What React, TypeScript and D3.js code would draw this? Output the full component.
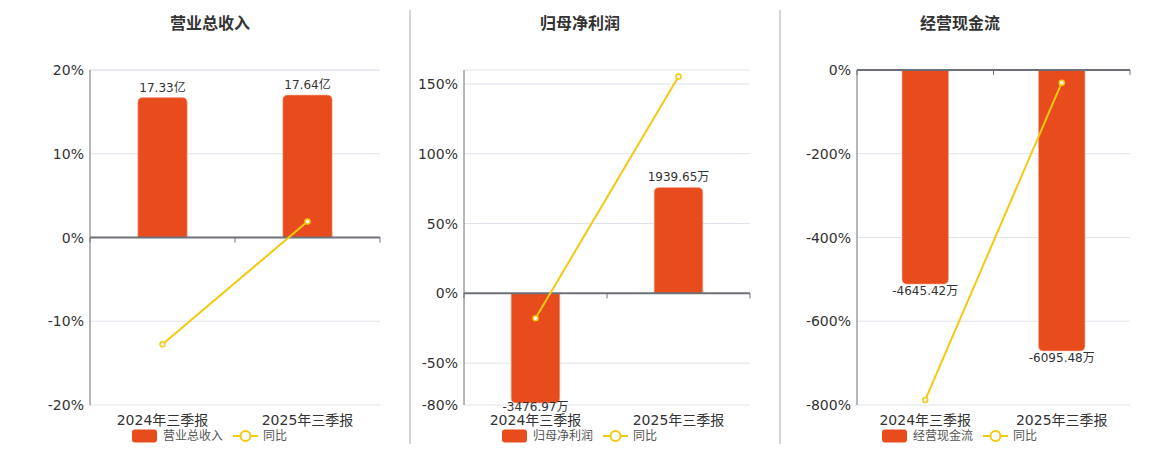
import React from 'react';
import * as d3 from 'd3';

const categories = ['2024年三季报', '2025年三季报'];

const revenue = [17.33, 17.64];
const revenueYoy = [-12.74, 1.9];

const profit = [-3476.97, 1939.65];
const profitYoy = [-17.9, 155.4];

const cashflow = [-4645.42, -6095.48];
const cashflowYoy = [-788, -30.3];

const revenueTicks = [-20, -10, 0, 10, 20];
const profitTicks = [-80, -50, 0, 50, 100, 150];
const cashflowTicks = [-800, -600, -400, -200, 0];

const BAR = '#e84c1d';
const LINE = '#f5c911';
const GRID = '#e0e3ec';
const AXIS = '#6e7079';
const TEXT = '#333';
const FONT = '"DejaVu Sans", "Noto Sans CJK SC", sans-serif';

const TOP = 70;
const BOTTOM = 405;

interface PanelProps {
  title: string;
  name: string;
  unit: string;
  values: number[];
  yoy: number[];
  yDomain: [number, number];
  ticks: number[];
  barDomain: number[];
  left: number;
  right: number;
  center: number;
}

// outer end of the bar is rounded, base stays square
function barPath(x: number, w: number, base: number, end: number, r: number) {
  const rr = Math.min(r, Math.abs(end - base) / 2, w / 2);
  const s = end < base ? 1 : -1;
  return `M${x},${base}V${end + s * rr}Q${x},${end} ${x + rr},${end}H${x + w - rr}Q${x + w},${end} ${x + w},${end + s * rr}V${base}Z`;
}

const Panel: React.FC<PanelProps> = ({ title, name, unit, values, yoy, yDomain, ticks, barDomain, left, right, center }) => {
  const y = d3.scaleLinear().domain(yDomain).range([BOTTOM, TOP]);
  const zero = y(0);
  // hidden bar axis, zero lined up with the percent axis
  const yBar = barDomain.length === 3
    ? d3.scaleLinear().domain(barDomain).range([BOTTOM, zero, TOP])
    : d3.scaleLinear().domain(barDomain).range([BOTTOM, TOP]);
  const x = d3.scaleBand().domain(categories).range([left, right]);
  const bw = x.bandwidth() * 0.34;
  const cx = (c: string) => (x(c) || 0) + x.bandwidth() / 2;

  const line = d3.line<number>()
    .x((_, i) => cx(categories[i]))
    .y(d => y(d));

  const grid = [...ticks, yDomain[1]].filter(t => t !== 0);

  return (
    <g fontFamily={FONT}>
      <text x={center} y={23} textAnchor="middle" dominantBaseline="central" fontSize={16} fontWeight="bold" fill={TEXT}>{title}</text>

      {grid.map(t => (
        <line key={'g' + t} x1={left} x2={right} y1={y(t)} y2={y(t)} stroke={GRID} strokeWidth={1} />
      ))}
      {ticks.map(t => (
        <text key={'t' + t} x={left - 6} y={y(t)} textAnchor="end" dominantBaseline="central" fontSize={14} fill={TEXT}>{t}%</text>
      ))}
      <line x1={left} x2={left} y1={TOP} y2={BOTTOM} stroke={AXIS} strokeWidth={1} />

      {values.map((v, i) => {
        const c = categories[i];
        const end = yBar(v);
        const x0 = cx(c) - bw / 2;
        return (
          <g key={c}>
            <path d={barPath(x0, bw, zero, end, 5)} fill={BAR} stroke="#f6a88f" strokeWidth={0.6} />
            <text
              x={cx(c)}
              y={v >= 0 ? end - 6 : Math.min(end + 7, BOTTOM + 2)}
              textAnchor="middle"
              dominantBaseline={v >= 0 ? 'auto' : 'central'}
              fontSize={12}
              fill={TEXT}
            >{v.toFixed(2)}{unit}</text>
          </g>
        );
      })}

      <line x1={left} x2={right} y1={zero} y2={zero} stroke={AXIS} strokeWidth={2} />
      {[left, ...categories.map(c => (x(c) || 0) + x.bandwidth())].map((t, i) => (
        <line key={'k' + i} x1={t} x2={t} y1={zero} y2={zero + 5} stroke={AXIS} strokeWidth={1} />
      ))}

      <path d={line(yoy) || ''} fill="none" stroke={LINE} strokeWidth={2} />
      {yoy.map((v, i) => (
        <circle key={'p' + i} cx={cx(categories[i])} cy={y(v)} r={2.5} fill="#fff" stroke={LINE} strokeWidth={1.5} />
      ))}

      {categories.map(c => (
        <text key={'c' + c} x={cx(c)} y={420} textAnchor="middle" dominantBaseline="central" fontSize={14} fill={TEXT}>{c}</text>
      ))}

      <rect x={center - 78} y={429.5} width={25} height={13} rx={3} fill={BAR} />
      <text x={center - 47} y={436} dominantBaseline="central" fontSize={12} fill="#555">{name}</text>
      <line x1={center + 23} x2={center + 48} y1={436} y2={436} stroke={LINE} strokeWidth={2} />
      <circle cx={center + 35.5} cy={436} r={5} fill="#fff" stroke={LINE} strokeWidth={2} />
      <text x={center + 53} y={436} dominantBaseline="central" fontSize={12} fill="#555">同比</text>
    </g>
  );
};

export default function App() {
  return (
    <svg width={1160} height={450} style={{ position: 'absolute', left: 0, top: 0, background: '#fff' }}>
      <Panel
        title="营业总收入" name="营业总收入" unit="亿"
        values={revenue} yoy={revenueYoy}
        yDomain={[-20, 20]} ticks={revenueTicks} barDomain={[-20.75, 0, 20.75]}
        left={90} right={380} center={210}
      />
      <Panel
        title="归母净利润" name="归母净利润" unit="万"
        values={profit} yoy={profitYoy}
        yDomain={[-80, 160]} ticks={profitTicks} barDomain={[-3540, 0, 4092]}
        left={464} right={750} center={580}
      />
      <Panel
        title="经营现金流" name="经营现金流" unit="万"
        values={cashflow} yoy={cashflowYoy}
        yDomain={[-800, 0]} ticks={cashflowTicks} barDomain={[-7270, 0]}
        left={857} right={1130} center={960}
      />
      <line x1={410} x2={410} y1={10} y2={444} stroke="#aaa" strokeWidth={1} />
      <line x1={780} x2={780} y1={10} y2={444} stroke="#aaa" strokeWidth={1} />
    </svg>
  );
}
